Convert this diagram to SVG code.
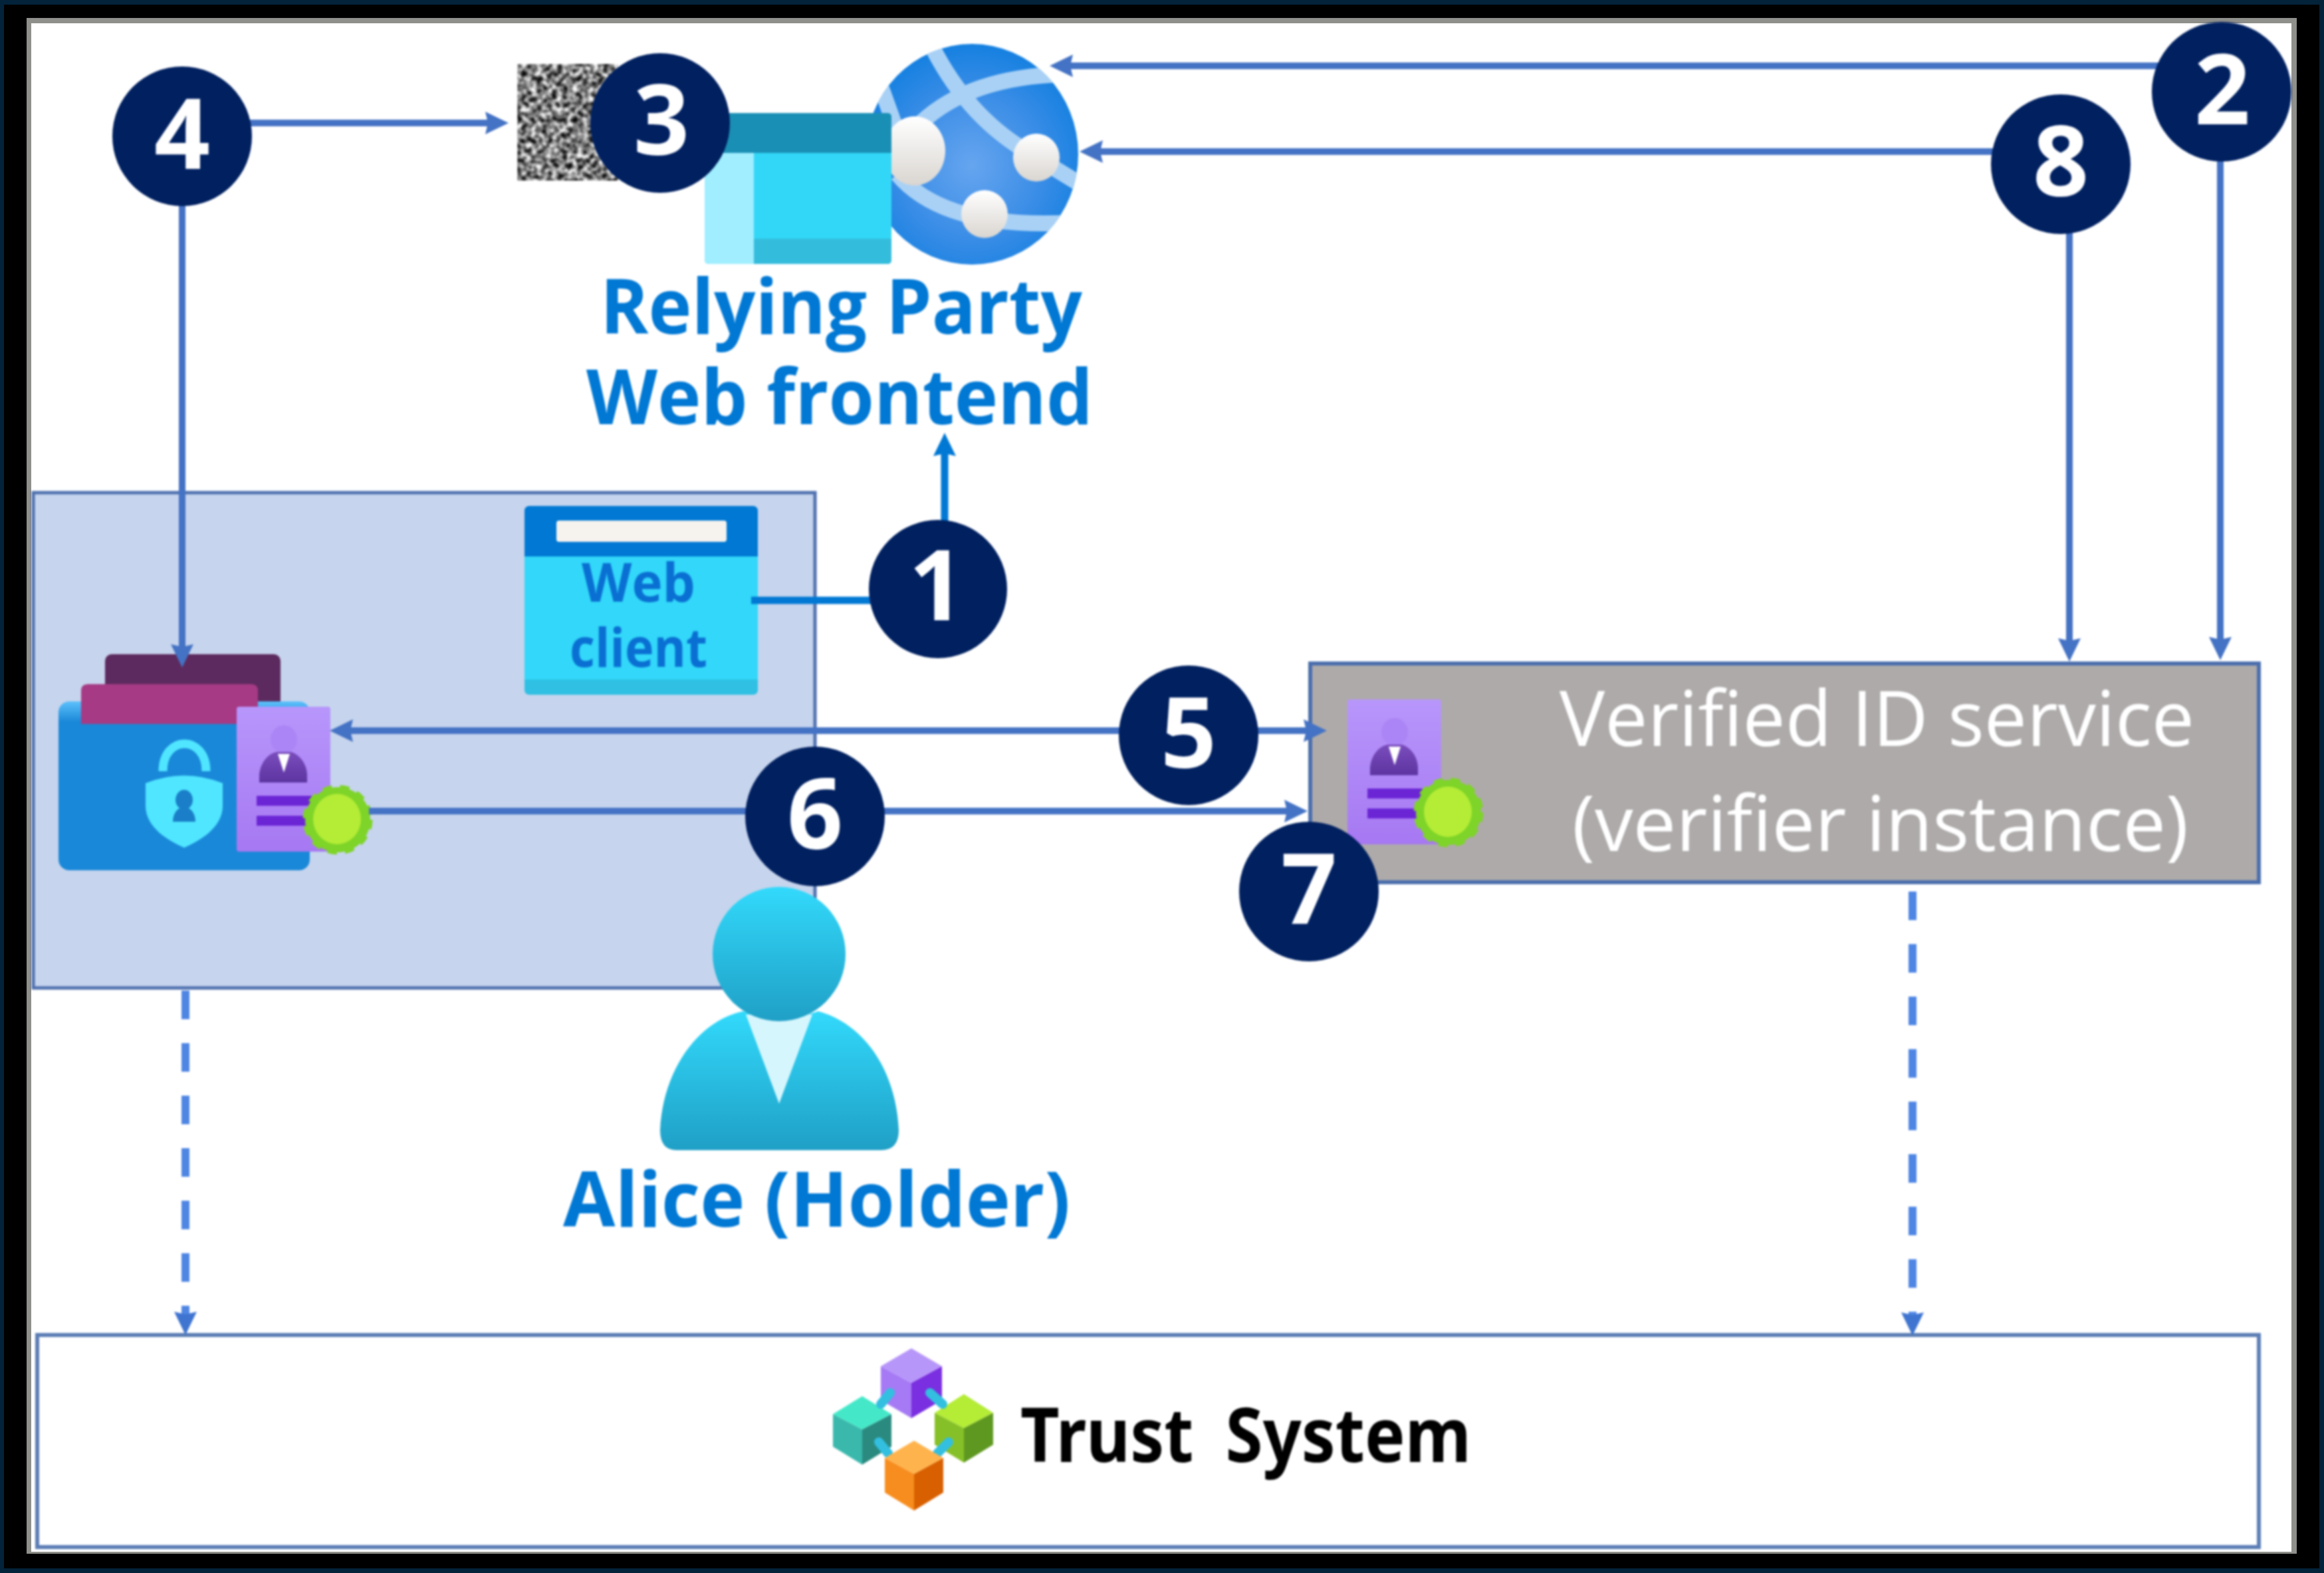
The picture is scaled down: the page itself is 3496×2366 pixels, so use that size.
<svg xmlns="http://www.w3.org/2000/svg" width="3496" height="2366" viewBox="0 0 3496 2366">
<style>
.lbl{font-family:"Open Sans","Noto Sans","Liberation Sans",sans-serif;font-weight:700;fill:#0078d4}
.h1{font-size:115px}
.wc{font-size:80px;fill:#0a6fd2}
.vid{font-family:"Open Sans","Noto Sans","Liberation Sans",sans-serif;font-weight:400;font-size:115px;fill:#ffffff}
.trust{font-family:"Noto Sans","Open Sans","Liberation Sans",sans-serif;font-weight:700;font-size:113px;fill:#000000;word-spacing:24px}
.num{font-family:"Open Sans","Noto Sans","Liberation Sans",sans-serif;font-weight:700;font-size:147px;fill:#ffffff;text-anchor:middle}
.badge{fill:#002060}
.c{fill:none;stroke:#4472c4;stroke-width:10}
.c1{fill:none;stroke:#0078d4;stroke-width:11}
.d{fill:none;stroke:#4f86e4;stroke-width:12;stroke-dasharray:43 36}
.arc{fill:none;stroke:#a9d1f5;stroke-width:24}
.link{stroke:#32bfe0;stroke-width:14;stroke-linecap:round}
</style>
<defs>
<filter id="soft" filterUnits="userSpaceOnUse" x="0" y="0" width="3496" height="2366" color-interpolation-filters="sRGB"><feGaussianBlur stdDeviation="1.5"/></filter>
<filter id="noise" x="0" y="0" width="1" height="1" color-interpolation-filters="sRGB">
<feTurbulence type="fractalNoise" baseFrequency="0.13" numOctaves="2" seed="7"/>
<feColorMatrix type="matrix" values="2.2 0 0 0 -0.6 2.2 0 0 0 -0.6 2.2 0 0 0 -0.6 0 0 0 0 1"/>
<feGaussianBlur stdDeviation="1.2"/>
</filter>
<marker id="a" markerUnits="userSpaceOnUse" markerWidth="36" markerHeight="36" viewBox="0 0 36 36" refX="20" refY="18" orient="auto-start-reverse"><polygon points="0,1 35,18 0,35 4,18" fill="#4472c4"/></marker>
<marker id="b" markerUnits="userSpaceOnUse" markerWidth="36" markerHeight="36" viewBox="0 0 36 36" refX="20" refY="18" orient="auto"><polygon points="0,1 35,18 0,35 4,18" fill="#0078d4"/></marker>
<marker id="e" markerUnits="userSpaceOnUse" markerWidth="36" markerHeight="36" viewBox="0 0 36 36" refX="20" refY="18" orient="auto"><polygon points="0,1 35,18 0,35 4,18" fill="#3f74d0"/></marker>
<linearGradient id="gP" x1="0" y1="0" x2="0" y2="1"><stop offset="0" stop-color="#32d9fb"/><stop offset="1" stop-color="#1f9fc6"/></linearGradient>
<linearGradient id="gC" x1="0" y1="0" x2="0" y2="1"><stop offset="0" stop-color="#b796fb"/><stop offset="1" stop-color="#a678f2"/></linearGradient>
<linearGradient id="gB" x1="0" y1="0" x2="0" y2="1"><stop offset="0" stop-color="#7a4cbc"/><stop offset="1" stop-color="#5c34a0"/></linearGradient>
<linearGradient id="gN" x1="0" y1="0" x2="0" y2="1"><stop offset="0" stop-color="#ffffff"/><stop offset="1" stop-color="#d9d5d0"/></linearGradient>
<linearGradient id="gW" x1="0" y1="0" x2="0" y2="1"><stop offset="0" stop-color="#5cc0fb"/><stop offset="0.12" stop-color="#1a88d8"/><stop offset="1" stop-color="#1a88d8"/></linearGradient>
<radialGradient id="gG" cx="0.5" cy="0.55" r="0.55"><stop offset="0" stop-color="#66a5ef"/><stop offset="0.6" stop-color="#3a8de6"/><stop offset="1" stop-color="#1580e0"/></radialGradient>
<clipPath id="gclip"><ellipse cx="1462" cy="232" rx="160" ry="166"/></clipPath>
<g id="credential">
<rect x="356" y="1063" width="141" height="218" rx="4" fill="url(#gC)"/>
<ellipse cx="427" cy="1112" rx="20" ry="21" fill="#ab85f5"/>
<path d="M390,1177 L390,1165 C392,1145 405,1133 416,1131 L438,1131 C450,1135 461,1147 462,1165 L462,1177 Z" fill="url(#gB)"/>
<polygon points="418,1134 436,1134 427,1162" fill="#ffffff"/>
<rect x="386" y="1197" width="83" height="15" fill="#6b25d5"/>
<rect x="386" y="1227" width="83" height="15" fill="#6b25d5"/>
<circle cx="508" cy="1233" r="49" fill="#7ed428" stroke="#7ed428" stroke-width="7" stroke-dasharray="14 12"/>
<ellipse cx="507" cy="1232" rx="36" ry="38" fill="#b4ec36"/>
</g>
</defs>

<g id="frame">
<rect width="3496" height="2366" fill="#03233a"/>
<rect x="6" y="7" width="3483" height="2352" fill="#000000"/>
<rect x="40" y="27" width="3415" height="2310" fill="#8f8f8b"/>
<rect x="47" y="35" width="3400" height="2299" fill="#ffffff"/>
</g>

<g filter="url(#soft)">
<g id="holder-box"><rect x="50" y="741" width="1176" height="745" fill="#c6d4ed" stroke="#4f70ae" stroke-width="5"/></g>
<g id="trust-box"><rect x="56" y="2008" width="3342" height="319" fill="#ffffff" stroke="#5b7db5" stroke-width="6"/></g>
<g id="verifier-box"><rect x="1971" y="998" width="1427" height="329" fill="#aeaaaa" stroke="#4a6eac" stroke-width="6"/></g>

<g id="qr"><rect x="778" y="96" width="152" height="176" filter="url(#noise)"/></g>

<g id="relying-party">
<ellipse cx="1462" cy="232" rx="160" ry="166" fill="url(#gG)"/>
<g clip-path="url(#gclip)">
<path class="arc" d="M1397,60 Q1450,170 1540,225 L1630,280"/>
<path class="arc" d="M1385,185 Q1460,115 1600,112"/>
<path class="arc" d="M1350,262 Q1420,345 1610,335"/>
<path class="arc" d="M1325,130 L1350,200"/>
</g>
<ellipse cx="1376" cy="227" rx="46" ry="52" fill="url(#gN)"/>
<ellipse cx="1559" cy="237" rx="35" ry="36" fill="url(#gN)"/>
<ellipse cx="1481" cy="322" rx="35" ry="36" fill="url(#gN)"/>
<rect x="1060" y="170" width="281" height="227" rx="6" fill="#32d7f7"/>
<path d="M1060,230 H1134 V397 H1066 Q1060,397 1060,391 Z" fill="#a0eeff"/>
<path d="M1134,359 H1341 V391 Q1341,397 1335,397 H1134 Z" fill="#34bcdc"/>
<path d="M1060,230 V176 Q1060,170 1066,170 H1335 Q1341,170 1341,176 V230 Z" fill="#1a8fb5"/>
<text class="lbl h1" x="903" y="502" textLength="725" lengthAdjust="spacingAndGlyphs">Relying Party</text>
<text class="lbl h1" x="882" y="638" textLength="762" lengthAdjust="spacingAndGlyphs">Web frontend</text>
</g>

<g id="web-client">
<rect x="789" y="761" width="351" height="284" rx="8" fill="#32d7f9"/>
<path d="M789,1022 H1140 V1037 Q1140,1045 1132,1045 H797 Q789,1045 789,1037 Z" fill="#2fc0e4"/>
<path d="M789,837 V769 Q789,761 797,761 H1132 Q1140,761 1140,769 V837 Z" fill="#0078d4"/>
<rect x="837" y="783" width="256" height="32" rx="4" fill="#f6f3ee"/>
<text class="lbl wc" x="875" y="905" textLength="171" lengthAdjust="spacingAndGlyphs">Web</text>
<text class="lbl wc" x="857" y="1003" textLength="207" lengthAdjust="spacingAndGlyphs">client</text>
</g>

<g id="wallet">
<rect x="158" y="984" width="264" height="90" rx="10" fill="#5c2a5e"/>
<rect x="88" y="1055" width="378" height="254" rx="16" fill="url(#gW)"/>
<path d="M122,1089 V1039 Q122,1029 132,1029 H378 Q388,1029 388,1039 V1089 Z" fill="#a63a85"/>
<path d="M245,1160 C245,1105 310,1105 310,1160" fill="none" stroke="#50e6ff" stroke-width="13"/>
<path d="M219,1178 Q277,1155 335,1178 L335,1212 C335,1245 300,1265 277,1275 C254,1265 219,1245 219,1212 Z" fill="#50e6ff"/>
<ellipse cx="277" cy="1203" rx="13" ry="15" fill="#1a7fc8"/>
<path d="M260,1236 C260,1222 268,1214 277,1214 C286,1214 294,1222 294,1236 Z" fill="#1a7fc8"/>
<use href="#credential"/>
</g>

<g id="verifier-credential"><use href="#credential" transform="translate(1671,-11)"/></g>

<g id="alice">
<path d="M1018,1730 Q993,1730 993,1700 C997,1610 1050,1535 1118,1521 L1172,1540 L1231,1521 C1300,1540 1348,1610 1352,1700 Q1352,1730 1325,1730 Z" fill="url(#gP)"/>
<polygon points="1122,1526 1222,1526 1172,1660" fill="#d6f6fd"/>
<ellipse cx="1172" cy="1435" rx="100" ry="101" fill="url(#gP)"/>
<text class="lbl h1" x="847" y="1845" textLength="763" lengthAdjust="spacingAndGlyphs">Alice (Holder)</text>
</g>

<g id="trust-system">
<polygon points="1325,2055 1371,2080 1371,2133 1325,2106" fill="#a67af4"/>
<polygon points="1417,2055 1371,2080 1371,2133 1417,2106" fill="#7a2fe0"/>
<polygon points="1371,2028 1417,2055 1371,2080 1325,2055" fill="#b796f9"/>
<polygon points="1253,2127 1297,2150 1297,2203 1253,2176" fill="#3ab8ac"/>
<polygon points="1341,2127 1297,2150 1297,2203 1341,2176" fill="#2a8a80"/>
<polygon points="1297,2100 1341,2127 1297,2150 1253,2127" fill="#44e8c8"/>
<polygon points="1406,2125 1450,2148 1450,2200 1406,2173" fill="#86c028"/>
<polygon points="1494,2125 1450,2148 1450,2200 1494,2173" fill="#5e9820"/>
<polygon points="1450,2097 1494,2125 1450,2148 1406,2125" fill="#b4ec36"/>
<line class="link" x1="1339" y1="2095" x2="1325" y2="2112"/>
<line class="link" x1="1399" y1="2095" x2="1418" y2="2112"/>
<line class="link" x1="1322" y1="2169" x2="1336" y2="2186"/>
<line class="link" x1="1427" y1="2169" x2="1410" y2="2186"/>
<polygon points="1331,2193 1375,2217 1375,2272 1331,2245" fill="#f78d1e"/>
<polygon points="1419,2193 1375,2217 1375,2272 1419,2245" fill="#d86000"/>
<polygon points="1375,2167 1419,2193 1375,2217 1331,2193" fill="#ffb34d"/>
<text class="trust" x="1535" y="2199" textLength="678" lengthAdjust="spacingAndGlyphs">Trust System</text>
</g>

<g id="connectors">
<path class="c1" d="M1130,903 H1320" />
<path class="c1" d="M1421,790 V666" marker-end="url(#b)"/>
<path class="c" d="M3300,99 H1594" marker-end="url(#a)"/>
<path class="c" d="M3340,230 V978" marker-end="url(#a)"/>
<path class="c" d="M3010,228 H1639" marker-end="url(#a)"/>
<path class="c" d="M3113,340 V980" marker-end="url(#a)"/>
<path class="c" d="M360,185 H750" marker-end="url(#a)"/>
<path class="c" d="M274,300 V989" marker-end="url(#a)"/>
<path class="c" d="M511,1099 H1981" marker-start="url(#a)" marker-end="url(#a)"/>
<path class="c" d="M555,1220 H1952" marker-end="url(#a)"/>
<path class="d" d="M279,1490 V1993" marker-end="url(#e)"/>
<path class="d" d="M2877,1341 V1994" marker-end="url(#e)"/>
</g>

<g id="step-1"><circle class="badge" cx="1411" cy="886" r="104"/><text class="num" x="1409" y="933">1</text></g>
<g id="step-2"><circle class="badge" cx="3342" cy="138" r="105"/><text class="num" x="3343" y="187">2</text></g>
<g id="step-3"><circle class="badge" cx="993" cy="185" r="105"/><text class="num" x="995" y="233">3</text></g>
<g id="step-4"><circle class="badge" cx="274" cy="205" r="105"/><text class="num" x="274" y="254">4</text></g>
<g id="step-5"><circle class="badge" cx="1788" cy="1106" r="105"/><text class="num" x="1788" y="1155">5</text></g>
<g id="step-6"><circle class="badge" cx="1226" cy="1228" r="105"/><text class="num" x="1226" y="1277">6</text></g>
<g id="step-7"><circle class="badge" cx="1969" cy="1341" r="105"/><text class="num" x="1969" y="1390">7</text></g>
<g id="step-8"><circle class="badge" cx="3100" cy="247" r="105"/><text class="num" x="3100" y="295">8</text></g>

<g id="verifier-label">
<text class="vid" x="2346" y="1122" textLength="955" lengthAdjust="spacingAndGlyphs">Verified ID service</text>
<text class="vid" x="2365" y="1280" textLength="927" lengthAdjust="spacingAndGlyphs">(verifier instance)</text>
</g>
</g>
</svg>
